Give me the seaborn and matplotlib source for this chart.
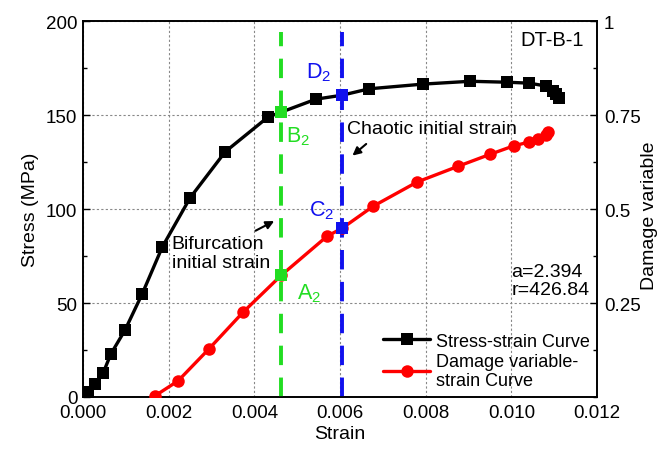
import matplotlib
matplotlib.use("Agg")
import matplotlib.pyplot as plt
import seaborn as sns
import pandas as pd
from matplotlib.lines import Line2D
from matplotlib.ticker import MultipleLocator, FormatStrFormatter

# ---- data ----
strain_s = [0.000117, 0.00028, 0.00047, 0.00065, 0.00098, 0.00138, 0.00185, 0.0025,
            0.00332, 0.00432, 0.00463, 0.00544, 0.00605, 0.00668, 0.00794, 0.00904,
            0.0099, 0.01042, 0.0108, 0.01096, 0.01105, 0.0111]
stress = [2.7, 6.9, 12.8, 22.9, 35.6, 54.8, 79.8, 106.0, 130.5, 149.0, 151.6, 158.5,
          160.6, 164.0, 166.5, 168.0, 167.5, 167.0, 165.5, 163.0, 161.0, 159.0]
strain_d = [0.00168, 0.00222, 0.00294, 0.00374, 0.00463, 0.0057, 0.00605, 0.00678,
            0.0078, 0.00876, 0.00951, 0.01005, 0.0104, 0.01063, 0.0108, 0.01086]
damage = [0.003, 0.043, 0.128, 0.226, 0.324, 0.428, 0.449, 0.508, 0.572, 0.614,
          0.646, 0.668, 0.678, 0.686, 0.697, 0.705]
key_strain = [0.00463, 0.00605]          # bifurcation, chaotic initial strain
key_stress = [151.6, 160.6]              # B2, D2
key_damage = [0.324, 0.449]              # A2, C2
key_colors = ["#22dd22", "#1111ee"]

sns.set_theme(style="white")
plt.rcParams['font.family'] = ['Liberation Sans', 'DejaVu Sans']
plt.rcParams['mathtext.fontset'] = 'custom'
plt.rcParams['mathtext.rm'] = 'Liberation Sans'
plt.rcParams['mathtext.default'] = 'regular'
plt.rcParams['text.color'] = 'black'
plt.rcParams['axes.labelcolor'] = 'black'
plt.rcParams['xtick.color'] = 'black'
plt.rcParams['ytick.color'] = 'black'

FS = 14
fig = plt.figure(figsize=(6.59, 4.52), dpi=100)
ax = fig.add_axes([0.126, 0.1195, 0.780, 0.8315])
ax2 = ax.twinx()

df_s = pd.DataFrame({"strain": strain_s, "stress": stress})
df_d = pd.DataFrame({"strain": strain_d, "damage": damage})

sns.lineplot(data=df_s, x="strain", y="stress", ax=ax, color="black", lw=2.4,
             marker="s", markersize=8, markeredgewidth=0, sort=False, zorder=3)
sns.lineplot(data=df_d, x="strain", y="damage", ax=ax2, color="#ff0000", lw=2.4,
             marker="o", markersize=9, markeredgewidth=0, sort=False, zorder=3)

# vertical dashed lines
for xs, c in zip(key_strain, key_colors):
    ax2.axvline(xs, ymin=0, ymax=0.97, color=c, lw=2.8, ls=(0, (5, 3.2)), zorder=2)

# key points
for xs, ys, yd, c in zip(key_strain, key_stress, key_damage, key_colors):
    ax2.plot([xs], [ys / 200.0], marker="s", ms=9, color=c, mew=0, zorder=5)
    ax2.plot([xs], [yd], marker="s", ms=9, color=c, mew=0, zorder=5)

ax.set_xlim(0, 0.012)
ax.set_ylim(0, 200)
ax2.set_ylim(0, 1)

ax.xaxis.set_major_locator(MultipleLocator(0.002))
ax.xaxis.set_minor_locator(MultipleLocator(0.001))
ax.xaxis.set_major_formatter(FormatStrFormatter('%.3f'))
ax.yaxis.set_major_locator(MultipleLocator(50))
ax.yaxis.set_minor_locator(MultipleLocator(25))
ax2.set_yticks([0.25, 0.5, 0.75, 1.0])
ax2.set_yticklabels(['0.25', '0.5', '0.75', '1'])
ax2.yaxis.set_minor_locator(MultipleLocator(0.125))

for a in (ax, ax2):
    a.tick_params(which='both', direction='in', top=False, labelsize=FS - 0.5,
                  colors='black')
    a.tick_params(which='major', length=5, width=1)
    a.tick_params(which='minor', length=3, width=1)
    for sp in a.spines.values():
        sp.set_color('black')
        sp.set_linewidth(1.2)
ax.tick_params(axis='y', right=False, pad=4)
ax.tick_params(axis='x', pad=5)
ax2.tick_params(axis='y', pad=5)

ax.grid(True, which='major', color='#888888', ls=(0, (2, 2)), lw=0.8)
ax.set_axisbelow(True)

ax.set_xlabel("Strain", fontsize=FS, labelpad=3, color='black')
ax.set_ylabel("Stress (MPa)", fontsize=FS, labelpad=5, color='black')
ax2.set_ylabel("")
fig.text(650 / 659, 1 - 216 / 452, "Damage variable", rotation=90, fontsize=FS,
         ha='center', va='center', color='black')

# labels for key points
ax.text(0.0055, 173, "D$_2$", color=key_colors[1], fontsize=FS + 1.5, ha='center', va='center')
ax.text(0.00503, 139, "B$_2$", color=key_colors[0], fontsize=FS + 1.5, ha='center', va='center')
ax.text(0.00558, 99.5, "C$_2$", color=key_colors[1], fontsize=FS + 1.5, ha='center', va='center')
ax.text(0.00528, 55.3, "A$_2$", color=key_colors[0], fontsize=FS + 1.5, ha='center', va='center')

# annotations
ax.text(0.00617, 143, "Chaotic initial strain", fontsize=FS, ha='left', va='center',
        color='black')
ax.annotate("", xy=(0.00624, 127.5), xytext=(0.00666, 135.6),
            arrowprops=dict(arrowstyle='-|>', color='black', lw=1.5, mutation_scale=12))
ax.text(0.00207, 76.6, "Bifurcation\ninitial strain", fontsize=FS, ha='left', va='center',
        linespacing=1.1, color='black')
ax.annotate("", xy=(0.00452, 94.3), xytext=(0.00397, 87.8),
            arrowprops=dict(arrowstyle='-|>', color='black', lw=1.5, mutation_scale=12))

ax.text(0.975, 0.952, "DT-B-1", transform=ax.transAxes, fontsize=FS + 0.5, ha='right',
        va='center', color='black')
ax.text(0.01, 62, "a=2.394\nr=426.84", fontsize=FS, ha='left', va='center',
        linespacing=1.1, color='black')

handles = [Line2D([], [], color='black', lw=2.4, marker='s', ms=8, mew=0),
           Line2D([], [], color='#ff0000', lw=2.4, marker='o', ms=9, mew=0)]
leg = ax2.legend(handles, ["Stress-strain Curve", "Damage variable-\nstrain Curve"],
                 loc='upper left', bbox_to_anchor=(0.57, 0.19), frameon=False,
                 fontsize=FS - 1, handlelength=2.6, handletextpad=0.3, borderaxespad=0,
                 labelspacing=0.15, labelcolor='black')

fig.savefig("out.png", dpi=100)
